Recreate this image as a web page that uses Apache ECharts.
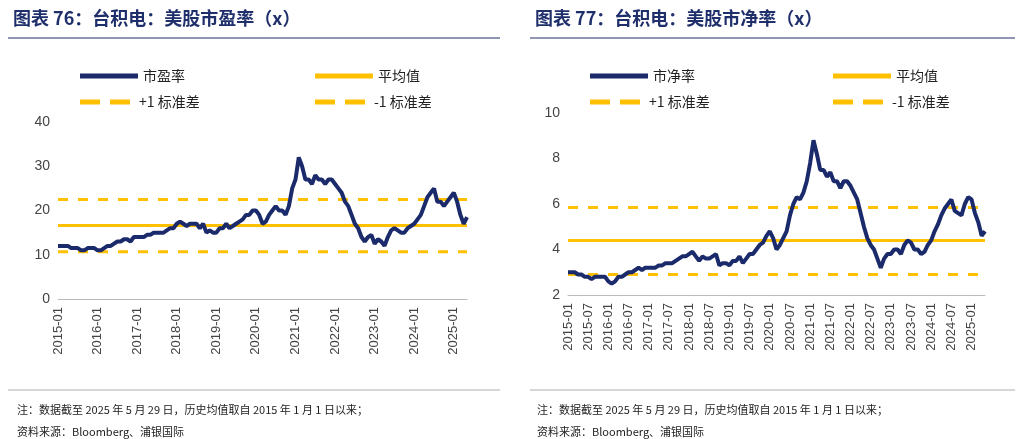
<!DOCTYPE html>
<html><head><meta charset="utf-8">
<script src="https://cdn.jsdelivr.net/npm/echarts@6/dist/echarts.min.js"></script>
<style>html,body{margin:0;padding:0;background:#fff}#c{width:1023px;height:439px}</style>
</head><body><div id="c"></div>
<script>
const months=[];for(let y=2015;y<=2025;y++){for(let m=1;m<=12;m++){if(y===2025&&m>5)break;months.push(y+'-'+String(m).padStart(2,'0'));}}
const pe=[12,12,12,12,11.5,11.5,11.5,11,11,11.5,11.5,11.5,
11,11,11.5,12,12,12.5,13,13,13.5,13.5,13,14,
14,14,14,14.5,14.5,15,15,15,15,15.5,16,16,
17,17.5,17,16.5,17,17,17,16,17,15,15.5,15,
15,16,16,17,16,16.5,17,17.5,18,19,19,20,
20,19,17,17.5,19,20,21,20,20,19,21,25,
27,32,30,27,27,26,28,27,27,26,27,27,
26,25,24,22,21,19,17,16,14,13,14,14.5,
12.5,13.5,13,12,14,15.5,16,15.5,15,15,16,16.5,
17,18,19,21,23,24,25,22,22,21,22,23,
24,22,19,17,18.5];
const pb=[3.0,3.0,3.0,2.9,2.9,2.8,2.8,2.7,2.8,2.8,2.8,2.8,
2.6,2.5,2.6,2.8,2.8,2.9,3.0,3.0,3.1,3.2,3.1,3.2,
3.2,3.2,3.2,3.3,3.3,3.4,3.4,3.4,3.5,3.6,3.7,3.7,
3.8,3.9,3.7,3.5,3.7,3.6,3.6,3.7,3.8,3.3,3.4,3.4,
3.3,3.5,3.5,3.7,3.4,3.6,3.8,3.8,4.0,4.2,4.3,4.6,
4.8,4.5,4.0,4.2,4.5,4.8,5.5,6.0,6.3,6.2,6.5,7.0,
7.8,8.8,8.2,7.5,7.5,7.2,7.4,7.0,7.0,6.7,7.0,7.0,
6.8,6.5,6.2,5.6,5.0,4.5,4.2,4.0,3.6,3.2,3.6,3.8,
3.8,4.0,4.0,3.8,4.2,4.4,4.3,4.0,4.0,3.8,3.9,4.2,
4.4,4.8,5.1,5.5,5.8,6.0,6.2,5.7,5.6,5.5,6.0,6.3,
6.2,5.6,5.2,4.6,4.8];
const peStats=[16.6,22.5,10.7];
const pbStats=[4.4,5.85,2.9];
const names1=['市盈率','平均值','+1 标准差','-1 标准差'];
const names2=['市净率','平均值','+1 标准差','-1 标准差'];
const navy='#1B2A6B',gold='#FFC000';
const ch=echarts.init(document.getElementById('c'));
function ser(names,data,st,xi){
  const c=v=>data.map(()=>v);
  return [
   {name:names[0],type:'line',xAxisIndex:xi,yAxisIndex:xi,data:data,showSymbol:false,lineStyle:{color:navy,width:4},itemStyle:{color:navy},z:5},
   {name:names[1],type:'line',xAxisIndex:xi,yAxisIndex:xi,data:c(st[0]),showSymbol:false,lineStyle:{color:gold,width:3},itemStyle:{color:gold}},
   {name:names[2],type:'line',xAxisIndex:xi,yAxisIndex:xi,data:c(st[1]),showSymbol:false,lineStyle:{color:gold,width:3,type:[10,10]},itemStyle:{color:gold}},
   {name:names[3],type:'line',xAxisIndex:xi,yAxisIndex:xi,data:c(st[2]),showSymbol:false,lineStyle:{color:gold,width:3,type:[10,10]},itemStyle:{color:gold}}
  ];
}
const tf={fontFamily:'Noto Sans CJK SC'};
function legends(names,x0,x1,y0){
  return [
    {data:[names[0]],left:x0,top:y0},{data:[names[1]],left:x1,top:y0},
    {data:[names[2]],left:x0,top:y0+26},{data:[names[3]],left:x1,top:y0+26}
  ].map((o,i)=>({data:o.data.map(n=>({name:n,icon:i===0||i===1?'rect':'path://M0,0H4V1H0ZM6,0H10V1H6Z'})),left:o.left,top:o.top,itemWidth:58,itemHeight:5,textStyle:Object.assign({fontSize:14,color:'#222'},tf),selectedMode:false}));
}
const xa=(gi,fn)=>({type:'category',gridIndex:gi,data:months,boundaryGap:false,axisTick:{show:false},axisLine:{lineStyle:{color:'#bbb'}},axisLabel:{rotate:90,interval:(i,v)=>fn(v),color:'#444',fontSize:13,fontFamily:'Liberation Sans'}});
const ya=(gi,min,max,iv)=>({type:'value',gridIndex:gi,min:min,max:max,interval:iv,splitLine:{show:false},axisLine:{show:false},axisTick:{show:false},axisLabel:{color:'#444',fontSize:14,fontFamily:'Liberation Sans'}});
const note='注：数据截至 2025 年 5 月 29 日，历史均值取自 2015 年 1 月 1 日以来；\n资料来源：Bloomberg、浦银国际';
ch.setOption({
 animation:false,
 title:[
  {text:'图表 76：台积电：美股市盈率（x）',left:8,top:4,textStyle:Object.assign({fontSize:18,fontWeight:'bold',color:'#1F2F6B'},tf)},
  {text:'图表 77：台积电：美股市净率（x）',left:530,top:4,textStyle:Object.assign({fontSize:18,fontWeight:'bold',color:'#1F2F6B'},tf)},
  {text:note,left:12,top:394,textStyle:Object.assign({fontSize:11,fontWeight:'normal',color:'#222',lineHeight:22},tf)},
  {text:note,left:532,top:394,textStyle:Object.assign({fontSize:11,fontWeight:'normal',color:'#222',lineHeight:22},tf)}
 ],
 graphic:[
  {type:'line',shape:{x1:8,y1:38,x2:500,y2:38},style:{stroke:'#1F2F6B',lineWidth:1}},
  {type:'line',shape:{x1:530,y1:38,x2:1015,y2:38},style:{stroke:'#1F2F6B',lineWidth:1}},
  {type:'line',shape:{x1:8,y1:390,x2:500,y2:390},style:{stroke:'#999',lineWidth:0.8}},
  {type:'line',shape:{x1:530,y1:390,x2:1015,y2:390},style:{stroke:'#999',lineWidth:0.8}}
 ],
 legend:[...legends(names1,75,310,64),...legends(names2,585,828,64)],
 grid:[{left:58,right:556,top:122,bottom:140},{left:568,right:38,top:113,bottom:144}],
 xAxis:[xa(0,v=>v.endsWith('-01')),xa(1,v=>v.endsWith('-01')||v.endsWith('-07'))],
 yAxis:[ya(0,0,40,10),ya(1,2,10,2)],
 series:[...ser(names1,pe,peStats,0),...ser(names2,pb,pbStats,1)]
});
</script></body></html>
